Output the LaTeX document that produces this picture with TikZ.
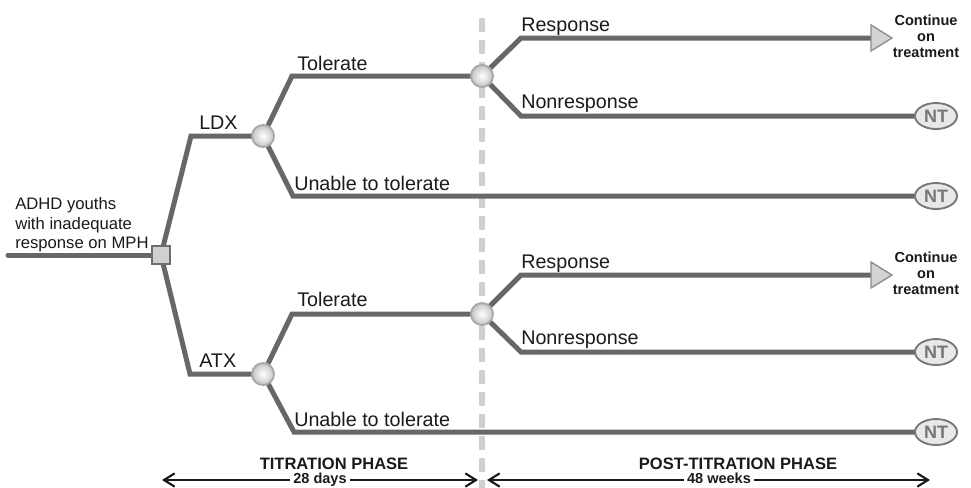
\documentclass[tikz,border=0pt]{standalone}
\usepackage{fontspec}
\setmainfont{Liberation Sans}
\usetikzlibrary{arrows.meta,shapes.geometric,backgrounds}
\definecolor{branchc}{HTML}{676767}
\definecolor{circd}{HTML}{A8A8A8}
\definecolor{circo}{HTML}{C4C4C4}
\definecolor{sqfill}{HTML}{D0D0D0}
\definecolor{sqdraw}{HTML}{6E6E6E}
\definecolor{trifill}{HTML}{D3D3D3}
\definecolor{tridraw}{HTML}{8C8C8C}
\definecolor{ntfill}{HTML}{E8E8E8}
\definecolor{ntdraw}{HTML}{777777}
\definecolor{dashc}{HTML}{CFCFCF}
\definecolor{txt}{HTML}{1A1A1A}
\tikzset{
  branch/.style={draw=branchc, line width=3.75pt},
  chance/.style={circle, minimum size=16.5pt, inner sep=0pt, draw=circd, line width=1.4pt,
    shading=radial, inner color=white, outer color=circo},
  decision/.style={rectangle, minimum size=13pt, inner sep=0pt, fill=sqfill, draw=sqdraw, line width=1.5pt},
  ntnode/.style={ellipse, minimum width=31.5pt, minimum height=19.5pt, inner sep=0pt,
    fill=ntfill, draw=ntdraw, line width=1.4pt, text=ntdraw, font=\bfseries\fontsize{13.5}{14}\selectfont},
  tri/.style={fill=trifill, draw=tridraw, line width=1pt, line join=miter},
  lbl/.style={anchor=base west, inner sep=0pt, text=txt, font=\fontsize{14.8}{17}\selectfont},
  leftlbl/.style={anchor=base west, inner sep=0pt, text=txt, font=\fontsize{12.5}{15}\selectfont},
  contlbl/.style={anchor=base, inner sep=0pt, text=txt, font=\bfseries\fontsize{10.9}{12}\selectfont},
  phase/.style={anchor=base, inner sep=0pt, text=txt, font=\bfseries\fontsize{12.4}{14}\selectfont},
  dur/.style={anchor=base, fill=white, inner xsep=2.5pt, inner ysep=0pt, text=txt, font=\bfseries\fontsize{10.9}{12}\selectfont},
  phasearrow/.style={draw=txt, line width=1.9pt, {Straight Barb[length=8pt,width=10pt,line width=1.6pt]}-{Straight Barb[length=8pt,width=10pt,line width=1.6pt]}},
  dashline/.style={draw=dashc, line width=4.5pt, dash pattern=on 10.5pt off 6pt}
}
\begin{document}
\begin{tikzpicture}[x=0.75pt,y=-0.75pt]
\useasboundingbox (0,0) rectangle (971,487);

% nodes
\coordinate (start) at (8,255);
\node[decision] (sq) at (161,255) {};
\coordinate (kL) at (191,136);
\node[chance] (cL) at (263,136) {};
\coordinate (kLT) at (292,76);
\node[chance] (cLT) at (482,76) {};
\coordinate (kLU) at (293,196);
\node[ntnode] (nt2) at (936,196) {NT};
\coordinate (kLR) at (521,38);
\coordinate (tri1) at (871,38);
\coordinate (kLN) at (521,116);
\node[ntnode] (nt1) at (936,116) {NT};

\coordinate (kA) at (190,374);
\node[chance] (cA) at (263,374) {};
\coordinate (kAT) at (292,314);
\node[chance] (cAT) at (482,314) {};
\coordinate (kAU) at (294,432);
\node[ntnode] (nt4) at (936,432) {NT};
\coordinate (kAR) at (521,275);
\coordinate (tri2) at (871,275);
\coordinate (kAN) at (521,352);
\node[ntnode] (nt3) at (936,352) {NT};

\coordinate (dtop) at (482,18);
\coordinate (dbot) at (482,492);

\begin{scope}[on background layer]
  \draw[dashline] (dtop) -- (dbot);
  \draw[branch, line cap=round] (start) -- (sq.center);
  \draw[branch] (sq.center) -- (kL) -- (cL.center);
  \draw[branch] (cL.center) -- (kLT) -- (cLT.center);
  \draw[branch] (cL.center) -- (kLU) -- (nt2.center);
  \draw[branch] (cLT.center) -- (kLR) -- (tri1);
  \draw[branch] (cLT.center) -- (kLN) -- (nt1.center);
  \draw[branch] (sq.center) -- (kA) -- (cA.center);
  \draw[branch] (cA.center) -- (kAT) -- (cAT.center);
  \draw[branch] (cA.center) -- (kAU) -- (nt4.center);
  \draw[branch] (cAT.center) -- (kAR) -- (tri2);
  \draw[branch] (cAT.center) -- (kAN) -- (nt3.center);
\end{scope}

% triangles
\draw[tri] (tri1) -- ++(0,-13) -- ++(21,13) -- ++(-21,13) -- cycle;
\draw[tri] (tri2) -- ++(0,-13) -- ++(21,13) -- ++(-21,13) -- cycle;

% labels
\node[leftlbl] (a1) at (15,209) {ADHD youths};
\node[leftlbl] (a2) at (15,229) {with inadequate};
\node[leftlbl] (a3) at (15,248) {response on MPH};

\node[lbl] (lldx) at (199,129.5) {LDX};
\node[lbl] (latx) at (199,367.5) {ATX};
\node[lbl] (lt1) at (297,70.5) {Tolerate};
\node[lbl] (lt2) at (297,306.5) {Tolerate};
\node[lbl] (lu1) at (294,190.5) {Unable to tolerate};
\node[lbl] (lu2) at (294,426.5) {Unable to tolerate};
\node[lbl] (lr1) at (521,31.5) {Response};
\node[lbl] (lr2) at (521,268.5) {Response};
\node[lbl] (ln1) at (521,108.5) {Nonresponse};
\node[lbl] (ln2) at (521,344.5) {Nonresponse};

\node[contlbl] (c1a) at (926,25) {Continue};
\node[contlbl] (c1b) at (926,41) {on};
\node[contlbl] (c1c) at (926,57) {treatment};
\node[contlbl] (c2a) at (926,262) {Continue};
\node[contlbl] (c2b) at (926,278) {on};
\node[contlbl] (c2c) at (926,294) {treatment};

% phases
\coordinate (tl) at (162,480);
\coordinate (tr) at (478,480);
\coordinate (pl) at (487,480);
\coordinate (pr) at (930,480);
\draw[phasearrow] (tl) -- (tr);
\draw[phasearrow] (pl) -- (pr);
\node[phase] (ph1) at (334,469) {TITRATION PHASE};
\node[phase] (ph2) at (738,469) {POST-TITRATION PHASE};
\node[dur] (d1) at (320,483.5) {28 days};
\node[dur] (d2) at (719,483.5) {48 weeks};
\end{tikzpicture}
\end{document}
